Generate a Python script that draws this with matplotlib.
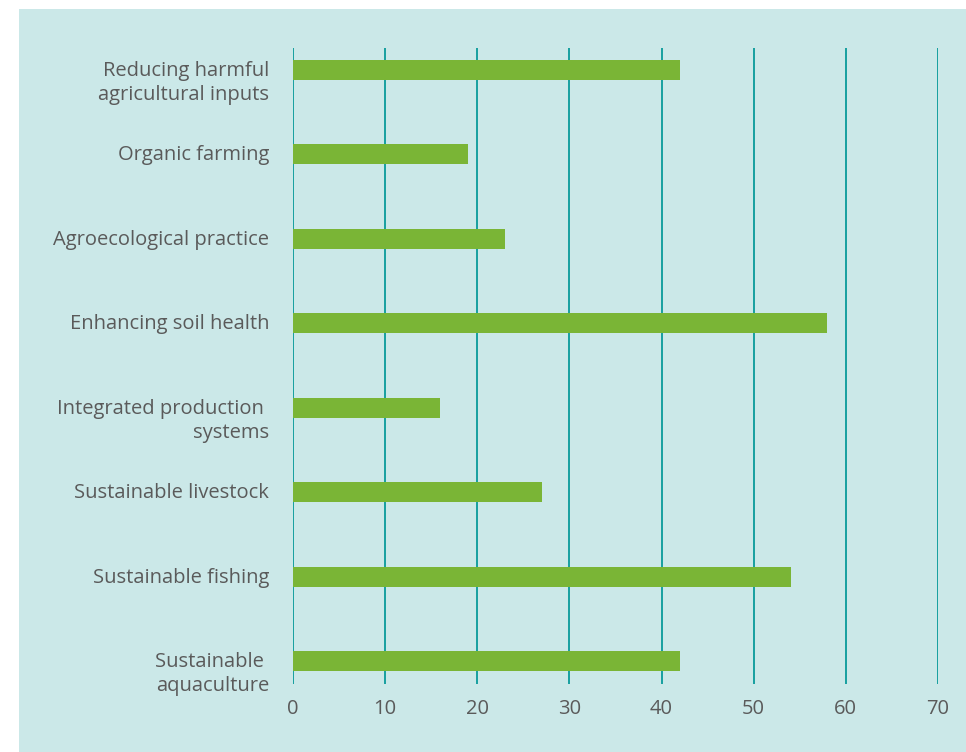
import matplotlib.pyplot as plt
from matplotlib.patches import Rectangle
from matplotlib.transforms import ScaledTranslation

categories = [
    "Reducing harmful\nagricultural inputs",
    "Organic farming",
    "Agroecological practice",
    "Enhancing soil health",
    "Integrated production \nsystems",
    "Sustainable livestock",
    "Sustainable fishing",
    "Sustainable \naquaculture",
]
values = [42, 19, 23, 58, 16, 27, 54, 42]
xticks = [0, 10, 20, 30, 40, 50, 60, 70]

bg = "#cbe8e8"
bar_color = "#7ab536"
grid_color = "#17a0a0"
text_color = "#5a5a5a"

plt.rcParams['font.family'] = ['Open Sans', 'DejaVu Sans']

fig = plt.figure(figsize=(9.66, 7.52), dpi=100)
fig.patch.set_facecolor("white")
# teal panel behind the axes
fig.patches.append(Rectangle((19 / 966, 0), 1, 1 - 9 / 752, transform=fig.transFigure,
                             facecolor=bg, edgecolor="none", zorder=-5))

ax = fig.add_axes([293 / 966, 68 / 752, 645 / 966, 636 / 752])
ax.set_facecolor("none")

pos = list(range(len(categories)))
ax.barh(pos, values, height=0.237, color=bar_color, zorder=3)

ax.set_xlim(0, 70)
ax.set_ylim(7.27, -0.26)
ax.set_xticks(xticks)
ax.set_xticklabels([str(t) for t in xticks])
ax.set_yticks(pos)
ax.set_yticklabels([])

# category labels: first line sits level with the bar, extra lines hang below
lbl_tr = ax.get_yaxis_transform() + ScaledTranslation(-24 / 100, 9 / 100, fig.dpi_scale_trans)
for p, name in zip(pos, categories):
    ax.text(0, p, name, transform=lbl_tr, ha="right", va="top", multialignment="right",
            fontsize=14.5, color=text_color, linespacing=1.27)

for t in xticks:
    ax.axvline(t, color=grid_color, lw=1.4, zorder=2)

for s in ax.spines.values():
    s.set_visible(False)

ax.tick_params(axis="x", length=0, pad=11, labelsize=14.5, labelcolor=text_color)
ax.tick_params(axis="y", length=0)

fig.savefig("out.png", dpi=100)
